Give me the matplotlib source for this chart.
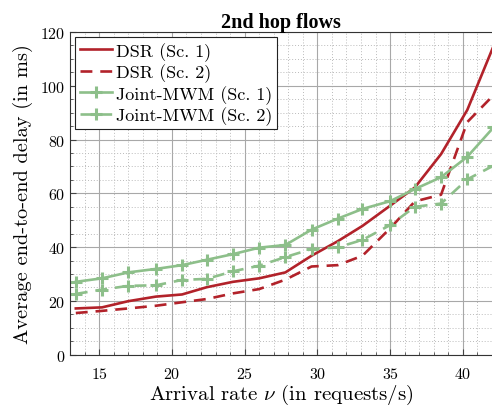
import matplotlib
matplotlib.use('Agg')
import matplotlib.pyplot as plt
from matplotlib.ticker import MultipleLocator

# Data
rate = [13.4, 15.2, 17.0, 18.9, 20.7, 22.4, 24.2, 26.0, 27.8, 29.6, 31.4, 33.1, 35.0, 36.7, 38.5, 40.3, 42.1]
dsr_sc1 = [17.2, 17.6, 19.9, 21.6, 22.4, 25.1, 27.1, 28.4, 30.6, 36.8, 42.2, 47.9, 55.4, 62.2, 74.6, 91.0, 114.7]
dsr_sc2 = [15.5, 16.3, 17.2, 18.2, 19.5, 20.7, 22.8, 24.4, 27.9, 32.8, 33.3, 36.8, 47.0, 57.0, 59.5, 86.5, 96.5]
mwm_sc1 = [27.1, 28.4, 30.6, 31.9, 33.3, 35.3, 37.4, 39.8, 40.8, 46.5, 50.6, 54.2, 57.1, 61.6, 66.0, 73.6, 84.5]
mwm_sc2 = [22.6, 24.2, 25.6, 25.8, 27.8, 28.2, 31.0, 33.1, 36.3, 39.3, 39.9, 42.7, 48.2, 55.0, 56.2, 65.2, 70.3]

labels = ['DSR (Sc. 1)', 'DSR (Sc. 2)', 'Joint-MWM (Sc. 1)', 'Joint-MWM (Sc. 2)']
red = '#B2222A'
green = '#8DBF8A'

plt.rcParams['font.family'] = 'serif'
plt.rcParams['font.serif'] = ['cmr10', 'DejaVu Serif']
plt.rcParams['mathtext.fontset'] = 'cm'
plt.rcParams['axes.formatter.use_mathtext'] = True

fig = plt.figure(figsize=(4.92, 4.10), dpi=100)
ax = fig.add_axes([70 / 492, 1 - 355.7 / 410, 1 - 70 / 492, (355.7 - 33) / 410])

lw = 1.9
ax.plot(rate, dsr_sc1, color=red, lw=lw, label=labels[0])
ax.plot(rate, dsr_sc2, color=red, lw=lw, dashes=(4.5, 3), label=labels[1])
ax.plot(rate, mwm_sc1, color=green, lw=lw, marker='+', ms=8, mew=2.2, label=labels[2])
ax.plot(rate, mwm_sc2, color=green, lw=lw, dashes=(4.5, 3), marker='+', ms=8, mew=2.2, label=labels[3])

ax.set_xlim(13, 42)
ax.set_ylim(0, 120)
ax.xaxis.set_major_locator(MultipleLocator(5))
ax.xaxis.set_minor_locator(MultipleLocator(1))
ax.yaxis.set_major_locator(MultipleLocator(20))
ax.yaxis.set_minor_locator(MultipleLocator(5))
ax.grid(which='major', color='#a8a8a8', lw=0.8, ls='-')
ax.grid(which='minor', color='#bbbbbb', lw=0.7, ls=(0, (1, 2)))
ax.set_axisbelow(True)
ax.tick_params(which='both', direction='in', labelsize=11.5, color='#444444')
ax.tick_params(which='major', length=4)
ax.tick_params(which='minor', length=2)
ax.tick_params(axis='x', pad=8)
ax.spines['right'].set_visible(False)
for s in ['left', 'bottom', 'top']:
    ax.spines[s].set_color('#333333')

ax.set_xlabel(r'Arrival rate $\nu$ (in requests/s)', fontsize=15, labelpad=1)
ax.set_ylabel('Average end-to-end delay (in ms)', fontsize=14.7, labelpad=5)
ax.set_title('2nd hop flows', fontsize=14.5, fontweight='bold', family='Liberation Serif', pad=3)

leg = ax.legend(loc='upper left', fontsize=13, fancybox=False, edgecolor='#222222',
                framealpha=1, numpoints=1, handlelength=1.8, handletextpad=0.2,
                labelspacing=0.15, borderpad=0.25, borderaxespad=0.3)
leg.get_frame().set_linewidth(0.8)

fig.savefig('out.png', dpi=100)
